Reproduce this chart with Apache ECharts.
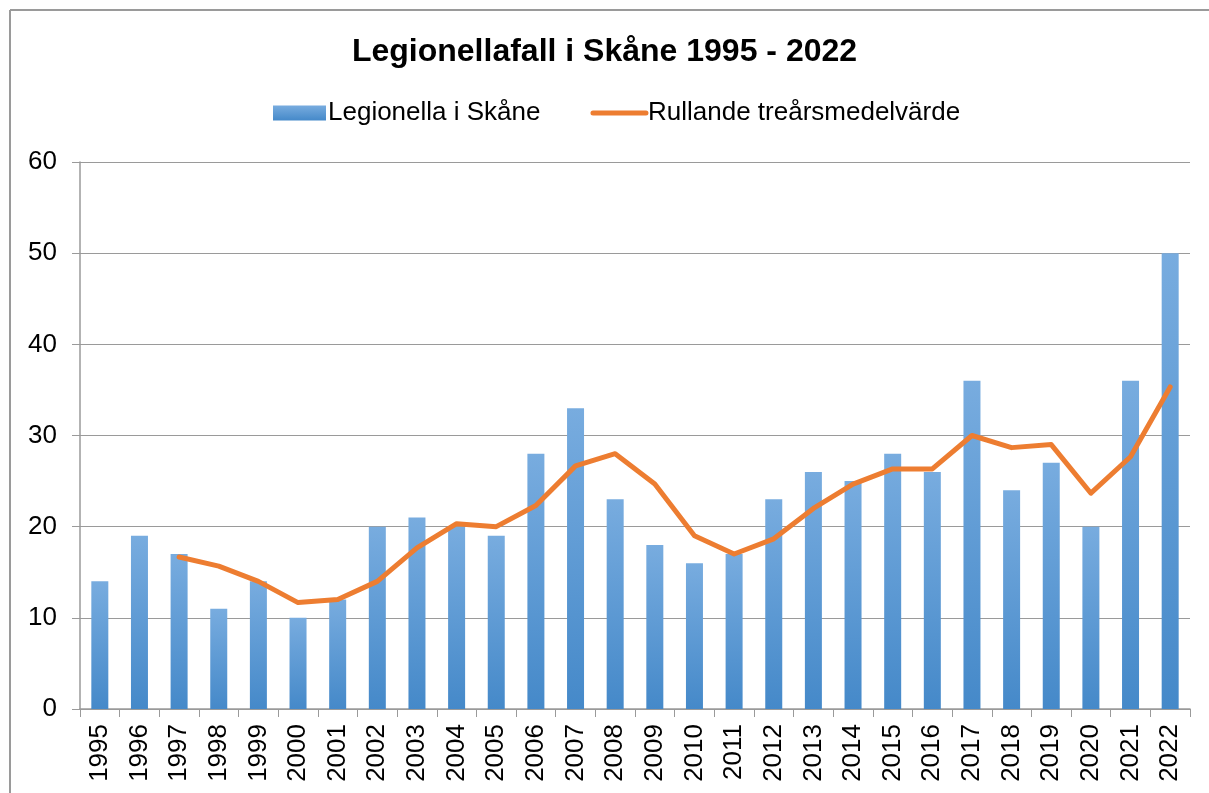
<!DOCTYPE html>
<html>
<head>
<meta charset="utf-8">
<title>Legionellafall i Skåne 1995 - 2022</title>
<script src="https://cdn.jsdelivr.net/npm/echarts@6/dist/echarts.min.js"></script>
<style>
  html, body { margin: 0; padding: 0; background: #fff; }
  #main { width: 1209px; height: 793px; }
</style>
</head>
<body>
<div id="main"></div>
<script>
// år
var years = ['1995','1996','1997','1998','1999','2000','2001','2002','2003','2004',
  '2005','2006','2007','2008','2009','2010','2011','2012','2013','2014',
  '2015','2016','2017','2018','2019','2020','2021','2022'];
// fall per år
var cases = [14, 19, 17, 11, 14, 10, 12, 20, 21, 20, 19, 28, 33, 23, 18, 16, 17, 23, 26, 25,
  28, 26, 36, 24, 27, 20, 36, 50];
// rullande treårsmedelvärde (avläst)
var rolling = ['-', '-', 16.67, 15.67, 14, 11.67, 12, 14, 17.67, 20.33, 20, 22.33, 26.67, 28,
  24.67, 19, 17, 18.67, 22, 24.67, 26.33, 26.33, 30, 28.67, 29, 23.67, 27.67, 35.33];
var yTicks = [0, 10, 20, 30, 40, 50, 60];

var myChart = echarts.init(document.getElementById('main'));
var barColor = new echarts.graphic.LinearGradient(0, 0, 0, 1, [
  {offset: 0, color: '#78acdf'},
  {offset: 1, color: '#4589c9'}
]);

myChart.setOption({
  animation: false,
  textStyle: { fontFamily: 'Liberation Sans, Arial, sans-serif' },
  graphic: [
    { type: 'line', shape: {x1: 10, y1: 10, x2: 1209, y2: 10}, style: {stroke: '#9a9a9a', lineWidth: 2} },
    { type: 'line', shape: {x1: 10, y1: 10, x2: 10, y2: 793}, style: {stroke: '#9a9a9a', lineWidth: 2} }
  ],
  title: {
    text: 'Legionellafall i Skåne 1995 - 2022',
    left: 'center',
    top: 31,
    textStyle: { fontSize: 32, fontWeight: 'bold', color: '#000', fontFamily: 'Liberation Sans, Arial, sans-serif' }
  },
  legend: {
    top: 95,
    left: 268,
    itemGap: 50,
    itemWidth: 53,
    itemHeight: 15,
    textStyle: { fontSize: 26, color: '#000', padding: [0, 0, 0, -3] },
    data: [
      { name: 'Legionella i Skåne', icon: 'rect' },
      { name: 'Rullande treårsmedelvärde', itemStyle: { opacity: 0 },
        lineStyle: { width: 5, cap: 'round', color: '#ed7d31' } }
    ]
  },
  grid: { left: 80, right: 19, top: 162, bottom: 84, containLabel: false },
  xAxis: {
    type: 'category',
    data: years,
    axisLine: { lineStyle: { color: '#9a9a9a', width: 1.5 } },
    axisTick: { show: true, length: 8, alignWithLabel: false, lineStyle: { color: '#9a9a9a' } },
    axisLabel: { rotate: 90, fontSize: 26, color: '#000', margin: 15 }
  },
  yAxis: {
    type: 'value',
    min: yTicks[0],
    max: yTicks[yTicks.length - 1],
    interval: 10,
    axisLine: { show: true, lineStyle: { color: '#9a9a9a', width: 1.5 } },
    axisTick: { show: true, length: 8, lineStyle: { color: '#9a9a9a' } },
    axisLabel: { fontSize: 26, color: '#000', margin: 23 },
    splitLine: { lineStyle: { color: '#9a9a9a', width: 1.2 } }
  },
  series: [
    {
      name: 'Legionella i Skåne',
      type: 'bar',
      data: cases,
      barWidth: 17,
      itemStyle: { color: barColor }
    },
    {
      name: 'Rullande treårsmedelvärde',
      type: 'line',
      data: rolling,
      symbol: 'none',
      lineStyle: { color: '#ed7d31', width: 5, cap: 'round', join: 'round' },
      itemStyle: { color: '#ed7d31' }
    }
  ]
});
</script>
</body>
</html>
